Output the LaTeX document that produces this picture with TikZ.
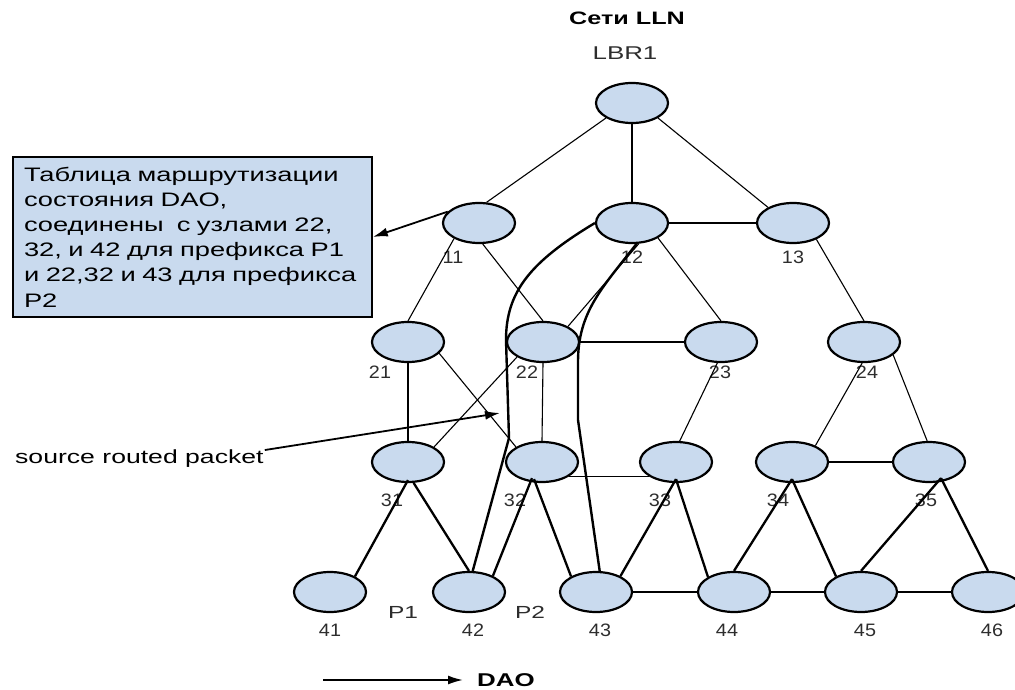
\documentclass[tikz,border=0pt]{standalone}
\usepackage{fontspec}
\setmainfont{Liberation Sans}[FakeStretch=1.4]
\newfontfamily\labfont{Liberation Sans}[FakeStretch=1.1]
\usetikzlibrary{shapes.geometric,arrows.meta,calc}
\definecolor{nodefill}{RGB}{201,218,238}
\definecolor{labgray}{RGB}{45,45,45}
\begin{document}
\begin{tikzpicture}[x=1pt,y=-1pt,
  nd/.style={ellipse, draw=black, line width=2.2pt, fill=nodefill, minimum width=72pt, minimum height=40pt, inner sep=0pt},
  lab/.style={font=\labfont\fontsize{18}{20}\selectfont, text=labgray, inner sep=0pt},
  thinedge/.style={line width=1.1pt},
  thickedge/.style={line width=2.3pt},
  path/.style={line width=2.4pt},
  arr/.style={line width=1.8pt, -{Latex[length=15pt,width=9pt]}}
]
\useasboundingbox (0,0) rectangle (1015,690);
\clip (0,0) rectangle (1015,690);

% titles
\node[font=\bfseries\fontsize{18}{20}\selectfont, inner sep=0pt] (title) at (627,18) {Сети LLN};
\node[font=\fontsize{18.5}{20}\selectfont, text=labgray, inner sep=0pt] (lbr) at (625,53) {LBR1};

% nodes
\node[nd] (r) at (632,103) {};
\node[nd] (n11) at (479,223) {};
\node[nd] (n12) at (632,223) {};
\node[nd] (n13) at (793,223) {};
\node[nd] (n21) at (408,342) {};
\node[nd] (n22) at (543,342) {};
\node[nd] (n23) at (721,342) {};
\node[nd] (n24) at (864,342) {};
\node[nd] (n31) at (408,462) {};
\node[nd] (n32) at (542,462) {};
\node[nd] (n33) at (676,462) {};
\node[nd] (n34) at (792,462) {};
\node[nd] (n35) at (929,462) {};
\node[nd] (n41) at (330,592) {};
\node[nd] (n42) at (469,592) {};
\node[nd] (n43) at (596,592) {};
\node[nd] (n44) at (734,592) {};
\node[nd] (n45) at (861,592) {};
\node[nd] (n46) at (988,592) {};

% labels
\node[lab] (l11) at (453,257) {11};
\node[lab] (l12) at (632,257) {12};
\node[lab] (l13) at (793,257) {13};
\node[lab] (l21) at (380,372) {21};
\node[lab] (l22) at (527,372) {22};
\node[lab] (l23) at (720,372) {23};
\node[lab] (l24) at (867,372) {24};
\node[lab] (l31) at (392,500) {31};
\node[lab] (l32) at (515,500) {32};
\node[lab] (l33) at (660,500) {33};
\node[lab] (l34) at (778,500) {34};
\node[lab] (l35) at (926,500) {35};
\node[lab] (l41) at (330,630) {41};
\node[lab] (l42) at (473,630) {42};
\node[lab] (l43) at (600,630) {43};
\node[lab] (l44) at (727,630) {44};
\node[lab] (l45) at (865,630) {45};
\node[lab] (l46) at (992,630) {46};
\node[lab, font=\fontsize{17.5}{19}\selectfont] (p1) at (403,612) {P1};
\node[lab, font=\fontsize{17.5}{19}\selectfont] (p2) at (530,612) {P2};

% thin edges
\draw[thinedge] (r.-150) -- (n11.70);
\draw[thinedge] (r.south) -- (n12.north);
\draw[thinedge] (r.-30) -- (n13.148);
\draw[thinedge] (n12) -- (n13);
\draw[thinedge] (n11.-148) -- (n21.north);
\draw[thinedge] (n11.-80) -- (n22.north);
\draw[thinedge] (n12.-72) -- (n22.32);
\draw[thinedge] (n12.-30) -- (n23.north);
\draw[thinedge] (n13.-35) -- (n24.north);
\draw[thinedge] (n22) -- (n23);
\draw[thinedge] (n21.south) -- (n31.north);
\draw[thinedge] (n21.-20) -- (n32.150);
\draw[thinedge] (n22.-150) -- (n31.30);
\draw[thinedge] (n22.south) -- (n32.north);
\draw[thinedge] (n23.-100) -- (n33.80);
\draw[thinedge] (n24.-95) -- (n34.35);
\draw[thinedge] (n24.-24) -- (n35.95);
\draw[thinedge] (n32.-29) -- (n33.-151);
\draw[thinedge] (n34) -- (n35);

% thick edges
\draw[thickedge] ([yshift=3pt]n31.south) -- (n41.32);
\draw[thickedge] (n31.-75) -- (n42.north);
\draw[thickedge] ([xshift=-10pt,yshift=5pt]n32.south) -- (n42.34);
\draw[thickedge] ([xshift=-8pt,yshift=4pt]n32.south) -- (n43.148);
\draw[thickedge] ([yshift=4pt]n33.south) -- (n43.33);
\draw[thickedge] ([yshift=4pt]n33.south) -- (n44.150);
\draw[thickedge] ([yshift=4pt]n34.south) -- (n44.north);
\draw[thickedge] ([yshift=4pt]n34.south) -- (n45.148);
\draw[thickedge] ([xshift=12pt,yshift=5pt]n35.south) -- (n45.north);
\draw[thickedge] ([xshift=12pt,yshift=5pt]n35.south) -- (n46.north);
\draw[thickedge] (n43) -- (n44);
\draw[thickedge] (n44) -- (n45);
\draw[thickedge] (n45) -- (n46);

% source route paths
\draw[path] (n12.west) .. controls (530,262) and (506,292) .. (506,340) -- (509,438) -- (n42.80);
\draw[path] (n12.-78) .. controls (602,288) and (578,312) .. (578,362) -- (578,420) -- (n43.80);

% table box
\node[draw=black, line width=1.6pt, fill=nodefill, text width=337pt, minimum height=160pt,
      inner xsep=11pt, inner ysep=0pt, align=left, font=\fontsize{19.5}{25.2}\selectfont] (box) at (192.5,237)
  {Таблица маршрутизации\\состояния DAO,\\соединены\ \ с узлами 22,\\32, и 42 для префикса P1\\и 22,32 и 43 для префикса\\P2};
\draw[arr] (n11.160) -- (box.east);

% source routed packet
\node[anchor=base west, inner sep=0pt, font=\fontsize{19}{22}\selectfont] (src) at (15,463) {source routed packet};
\coordinate (srctip) at (500,413);
\draw[arr] ([xshift=1pt,yshift=-1pt]src.north east) -- (srctip);

% legend
\node[font=\bfseries\fontsize{18.5}{20}\selectfont, inner sep=0pt] (dao) at (506,680) {DAO};
\coordinate (daostart) at (323,680);
\draw[arr] (daostart) -- ([xshift=-14pt]dao.west);
\end{tikzpicture}
\end{document}
